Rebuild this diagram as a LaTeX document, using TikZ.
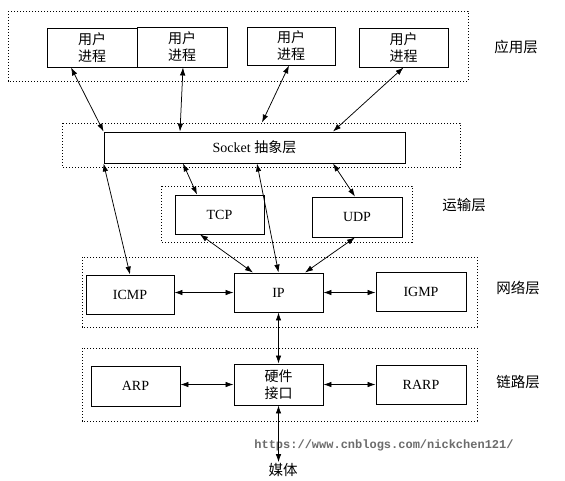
\documentclass[tikz,border=0pt]{standalone}
\usepackage{fontspec}
\setmainfont{Liberation Serif}
\newfontfamily\cjk{Noto Sans CJK SC}
\newfontfamily\wmfont{Liberation Mono}
\usetikzlibrary{arrows.meta}
\begin{document}
\begin{tikzpicture}[x=1pt,y=-1pt,
  box/.style={draw, line width=0.9pt, inner sep=0pt, align=center, font=\fontsize{14}{17}\selectfont},
  cbox/.style={box, font=\cjk\fontsize{14}{17}\selectfont},
  layer/.style={draw, line width=0.9pt, dash pattern=on 1.2pt off 1.8pt},
  lab/.style={font=\cjk\fontsize{14.5}{17}\selectfont, inner sep=0pt},
  conn/.style={line width=0.75pt, {Latex[length=8pt,width=5.5pt]}-{Latex[length=8pt,width=5.5pt]}}]
\useasboundingbox[fill=white] (0,0) rectangle (565,480);

% layer frames
\draw[layer] (8,11) rectangle (468,81);
\draw[layer] (62,123) rectangle (460,167);
\draw[layer] (161,186) rectangle (412,242);
\draw[layer] (82,257) rectangle (477,327);
\draw[layer] (82,348) rectangle (477,421);

% layer labels
\node[lab] (lapp) at (516,47) {应用层};
\node[lab] (ltrans) at (464,205) {运输层};
\node[lab] (lnet) at (518,288) {网络层};
\node[lab] (llink) at (518,382) {链路层};

% application processes
\node[cbox, minimum width=90pt, minimum height=39pt] (b1) at (92,47.5) {用户\\进程};
\node[cbox, minimum width=90pt, minimum height=40pt] (b2) at (182,47) {用户\\进程};
\node[cbox, minimum width=88pt, minimum height=38pt] (b3) at (291,46) {用户\\进程};
\node[cbox, minimum width=89pt, minimum height=39pt] (b4) at (403.5,47.5) {用户\\进程};

% socket
\node[box, minimum width=301pt, minimum height=31pt] (sock) at (254.5,147.5) {Socket {\cjk 抽象层}};

% transport
\node[box, minimum width=89pt, minimum height=39pt] (tcp) at (219.5,214.5) {TCP};
\node[box, minimum width=90pt, minimum height=40pt] (udp) at (357,217) {UDP};

% network
\node[box, minimum width=88pt, minimum height=39pt] (icmp) at (130,294.5) {ICMP};
\node[box, minimum width=89pt, minimum height=39pt] (ip) at (278.5,292.5) {IP};
\node[box, minimum width=90pt, minimum height=39pt] (igmp) at (421,291.5) {IGMP};

% link
\node[box, minimum width=89pt, minimum height=40pt] (arp) at (135.5,386) {ARP};
\node[cbox, minimum width=89pt, minimum height=41pt] (hw) at (278.5,384.5) {硬件\\接口};
\node[box, minimum width=90pt, minimum height=39pt] (rarp) at (421,384.5) {RARP};

% medium
\node[lab] (media) at (283,470) {媒体};

% watermark
\node[inner sep=0pt, text=black!58, font=\wmfont\bfseries\fontsize{12}{14}\selectfont] (wm) at (384,445) {https://www.cnblogs.com/nickchen121/};

% connectors: application <-> socket
\draw[conn] ([xshift=-21pt]b1.south) -- (sock.north west);
\draw[conn] ([xshift=1pt]b2.south) -- ([xshift=-74.5pt]sock.north);
\draw[conn] ([xshift=-2pt]b3.south) -- ([xshift=7.5pt,yshift=9pt]sock.north);
\draw[conn] (b4.south) -- ([xshift=78.5pt]sock.north);

% socket <-> lower
\draw[conn] (sock.south west) -- (icmp.north);
\draw[conn] ([xshift=-71.5pt]sock.south) -- ([xshift=-22.5pt]tcp.north);
\draw[conn] ([xshift=2.5pt]sock.south) -- (ip.north);
\draw[conn] ([xshift=78.5pt]sock.south) -- ([xshift=-2pt]udp.north);

% transport <-> IP
\draw[conn] ([xshift=-19.5pt]tcp.south) -- ([xshift=-25.5pt]ip.north);
\draw[conn] ([xshift=-2pt]udp.south) -- ([xshift=26.5pt]ip.north);

% network horizontals
\draw[conn] (ip.west -| icmp.east) -- (ip.west);
\draw[conn] (ip.east) -- (ip.east -| igmp.west);

% IP <-> hardware
\draw[conn] (ip.south) -- (hw.north);

% link horizontals
\draw[conn] (hw.west -| arp.east) -- (hw.west);
\draw[conn] (hw.east) -- (hw.east -| rarp.west);

% hardware <-> medium
\coordinate (mtop) at (hw.south |- media.north);
\draw[conn] (hw.south) -- ([yshift=1pt]mtop);
\end{tikzpicture}
\end{document}
